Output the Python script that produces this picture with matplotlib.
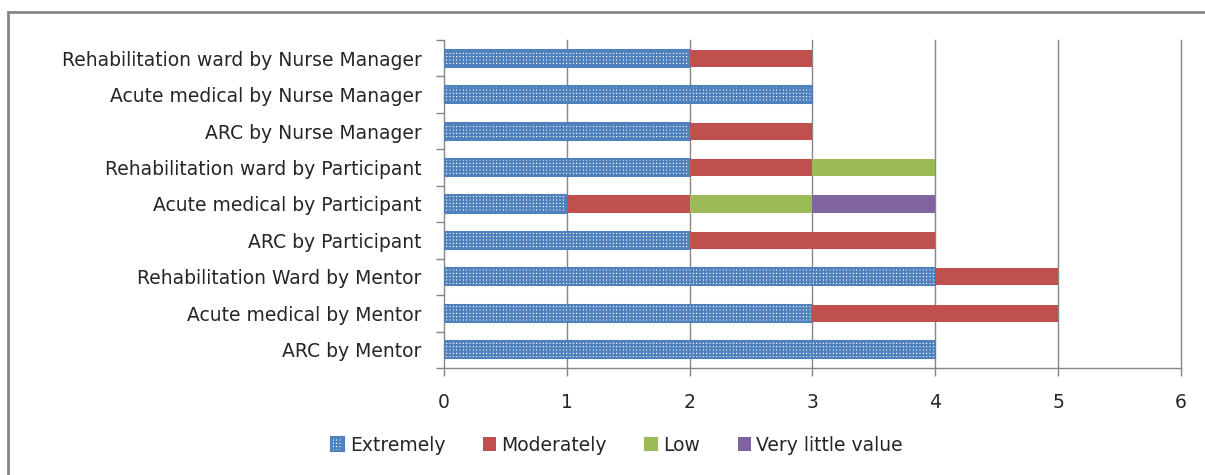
import matplotlib.pyplot as plt
from matplotlib.patches import Rectangle

plt.rcParams['font.family'] = ['DejaVu Sans']
plt.rcParams['hatch.linewidth'] = 1.5

categories = ["ARC by Mentor", "Acute medical by Mentor", "Rehabilitation Ward by Mentor",
              "ARC by Participant", "Acute medical by Participant",
              "Rehabilitation ward by Participant", "ARC by Nurse Manager",
              "Acute medical by Nurse Manager", "Rehabilitation ward by Nurse Manager"]
extremely = [4, 3, 4, 2, 1, 2, 2, 3, 2]
moderately = [0, 2, 1, 2, 1, 1, 1, 0, 1]
low = [0, 0, 0, 0, 1, 1, 0, 0, 0]
very_little = [0, 0, 0, 0, 1, 0, 0, 0, 0]
x_ticks = [0, 1, 2, 3, 4, 5, 6]

grid_col = '#868686'
text_col = '#262626'

fig = plt.figure(figsize=(12.05, 4.75), dpi=100)
ax = fig.add_axes([0.3685, 0.2253, 0.6115, 0.6905])

y = list(range(len(categories)))
h = 0.47
ax.barh(y, extremely, height=h, color='white', edgecolor='#4F81BD', hatch='+++++',
        linewidth=1.5, label='Extremely', zorder=3)
left = list(extremely)
for vals, col, lab in [(moderately, '#C0504D', 'Moderately'),
                       (low, '#9BBB59', 'Low'),
                       (very_little, '#8064A2', 'Very little value')]:
    ax.barh(y, vals, left=left, height=h, color=col, label=lab, zorder=3)
    left = [a + b for a, b in zip(left, vals)]

ax.set_xlim(0, 6)
ax.set_ylim(-0.5, len(categories) - 0.5)
ax.set_xticks(x_ticks)
ax.set_yticks([i - 0.5 for i in range(len(categories) + 1)], minor=False)
ax.set_yticklabels([])
ax.set_yticks(y, minor=True)
ax.set_yticklabels(categories, minor=True)
ax.tick_params(axis='y', which='minor', length=0, pad=16, labelsize=13.5, labelcolor=text_col)
ax.tick_params(axis='y', which='major', length=6, color=grid_col, width=1)
ax.tick_params(axis='x', length=6, color=grid_col, width=1, pad=12, labelsize=13.5, labelcolor=text_col)
for xv in x_ticks[1:]:
    ax.axvline(xv, color=grid_col, linewidth=1, zorder=0, clip_on=False)
for s in ['top', 'right']:
    ax.spines[s].set_visible(False)
for s in ['left', 'bottom']:
    ax.spines[s].set_color(grid_col)
    ax.spines[s].set_linewidth(1)

fig.legend(loc='center', bbox_to_anchor=(0.512, 0.063), ncol=4, frameon=False,
           fontsize=13.5, handlelength=0.7, handleheight=0.7, handletextpad=0.3,
           columnspacing=2.0, labelcolor=text_col)

fig.patches.append(Rectangle((8 / 1205, -0.1), 1.2, 1 - 12 / 475 + 0.1,
                             transform=fig.transFigure, fill=False,
                             edgecolor=grid_col, linewidth=2))

fig.savefig('out.png', dpi=100)
